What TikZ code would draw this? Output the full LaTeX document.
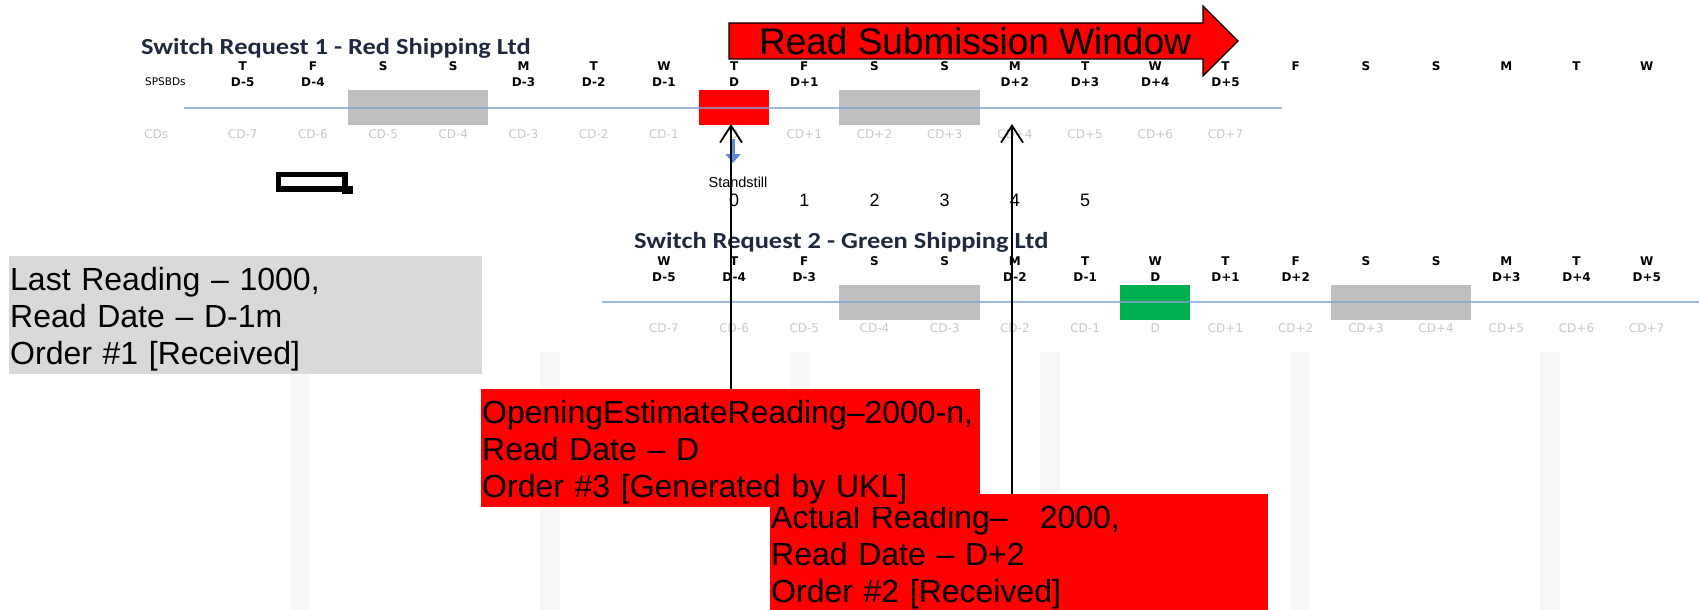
\documentclass[tikz,border=0pt]{standalone}
\usepackage{fontspec}
\setmainfont{Liberation Sans}
\newfontfamily\calibri{Carlito}[FakeStretch=1.15]
\newfontfamily\dejavu{DejaVu Sans}
\usetikzlibrary{arrows.meta}
\definecolor{Lane}{HTML}{7FA2D3}
\definecolor{Weekend}{HTML}{BFBFBF}
\definecolor{CalDay}{HTML}{C8C8C8}
\definecolor{Navy}{HTML}{1F2940}
\definecolor{Green}{HTML}{00B050}
\definecolor{Note}{HTML}{D9D9D9}
\definecolor{Still}{HTML}{5B8ED6}
\definecolor{Stripe}{HTML}{F7F7F7}
\newcommand\colx[1]{242.7+70.2*#1}
\newcommand\lead{\rule{0pt}{31pt}}

\begin{document}
\begin{tikzpicture}[x=1pt,y=-1pt,
  wd/.style={font=\dejavu\bfseries\fontsize{12}{12}\selectfont,inner sep=0pt},
  cd/.style={font=\dejavu\fontsize{12}{12}\selectfont,text=CalDay,inner sep=0pt},
  title/.style={font=\calibri\bfseries\fontsize{23}{23}\selectfont,text=Navy,
    anchor=west,inner sep=0pt},
  slot/.style={minimum width=70.2pt,minimum height=35pt,inner sep=0pt},
  lane/.style={line width=2.4pt,Lane,opacity=0.75},
  note/.style={anchor=north west,inner xsep=1pt,inner ysep=3pt,align=left,
    font=\fontsize{32}{37}\selectfont},
  read/.style={-{Straight Barb[length=17pt,width=22pt]},line width=1.8pt}]
  \useasboundingbox (0,0) rectangle (1699,610);
  \foreach \k in {0,...,5}
    \fill[Stripe] ({290+250*\k},352) rectangle ({310+250*\k},610);

  \node[title] (sr1) at (141,48) {Switch Request 1 - Red Shipping Ltd};
  \fill[Weekend] ({\colx{2}-35.1},90) rectangle ({\colx{3}+35.1},125);
  \fill[Weekend] ({\colx{9}-35.1},90) rectangle ({\colx{10}+35.1},125);
  \node[slot,fill=red] (today) at ({\colx{7}},107.5) {};
  \draw[lane] (184,108) -- (1282,108);
  \foreach \d [count=\i from 0] in {T,F,S,S,M,T,W,T,F,S,S,M,T,W,T,F,S,S,M,T,W}
    \node[wd] (wa\i) at ({\colx{\i}},66) {\d};
  \node[wd,anchor=west,font=\dejavu\fontsize{10.5}{12}\selectfont] (spsbd) at (145,82) {SPSBDs};
  \foreach \i/\t in {0/D-5,1/D-4,4/D-3,5/D-2,6/D-1,7/D,8/D+1,11/D+2,12/D+3,13/D+4,14/D+5}
    \node[wd] (da\i) at ({\colx{\i}},82) {\t};
  \node[cd,anchor=west] (cds) at (144,134) {CDs};
  \foreach \i/\t in {0/CD-7,1/CD-6,2/CD-5,3/CD-4,4/CD-3,5/CD-2,6/CD-1,7/D,8/CD+1,
      9/CD+2,10/CD+3,11/CD+4,12/CD+5,13/CD+6,14/CD+7}
    \node[cd] (ca\i) at ({\colx{\i}},134) {\t};

  \node[title] (sr2) at (634,242) {Switch Request 2 - Green Shipping Ltd};
  \fill[Weekend] ({\colx{9}-35.1},285) rectangle ({\colx{10}+35.1},320);
  \fill[Weekend] ({\colx{16}-35.1},285) rectangle ({\colx{17}+35.1},320);
  \node[slot,fill=Green] (dday) at ({\colx{13}},302.5) {};
  \draw[lane] (602,302) -- (1699,302);
  \foreach \d [count=\i from 6] in {W,T,F,S,S,M,T,W,T,F,S,S,M,T,W}
    \node[wd] (wb\i) at ({\colx{\i}},261) {\d};
  \foreach \i/\t in {6/D-5,7/D-4,8/D-3,11/D-2,12/D-1,13/D,14/D+1,15/D+2,18/D+3,19/D+4,20/D+5}
    \node[wd] (db\i) at ({\colx{\i}},277) {\t};
  \foreach \i/\t in {6/CD-7,7/CD-6,8/CD-5,9/CD-4,10/CD-3,11/CD-2,12/CD-1,13/D,14/CD+1,
      15/CD+2,16/CD+3,17/CD+4,18/CD+5,19/CD+6,20/CD+7}
    \node[cd] (cb\i) at ({\colx{\i}},328) {\t};

  \filldraw[fill=red,draw=black,line width=1.2pt] (729,23) -- (1203,23) -- (1203,6)
    -- (1238,41) -- (1203,76) -- (1203,59) -- (729,59) -- cycle;
  \node[font=\fontsize{37}{37}\selectfont,inner sep=0pt] (rsw) at (975,41) {Read Submission Window};

  \node[font=\fontsize{14.5}{14}\selectfont,inner sep=0pt] (still) at (738,182) {Standstill};
  \coordinate (stilltop) at (733,139);
  \coordinate (stillend) at (733,163);
  \draw[Still,line width=3.5pt,-{Triangle[length=9pt,width=15pt]}] (stilltop) -- (stillend);
  \foreach \n [count=\i from 7] in {0,...,5}
    \node[font=\fontsize{18}{18}\selectfont,inner sep=0pt] (num\n) at ({\colx{\i}},200) {\n};

  \draw[line width=5.5pt] (278.5,174.5) rectangle (345,189);
  \fill (342,186) rectangle (353,194);

  \node[note,fill=Note,text width=471pt] (last) at (9,256)
    {\lead Last Reading – 1000,\\Read Date – D-1m\\Order \#1 [Received]};
  \node[note,fill=red,text width=496pt] (actual) at (770,494)
    {\lead Actual Reading–~~~2000,\\Read Date – D+2\\Order \#2 [Received]};
  \node[note,fill=red,text width=497pt] (open) at (481,389)
    {\lead OpeningEstimateReading–2000-n,\\Read Date – D\\Order \#3 [Generated by UKL]};

  \coordinate (tipA) at (731,124);
  \coordinate (tipB) at (1012,124);
  \draw[read] (open.north -| tipA) -- (tipA);
  \draw[read] (actual.north -| tipB) -- (tipB);
\end{tikzpicture}
\end{document}
